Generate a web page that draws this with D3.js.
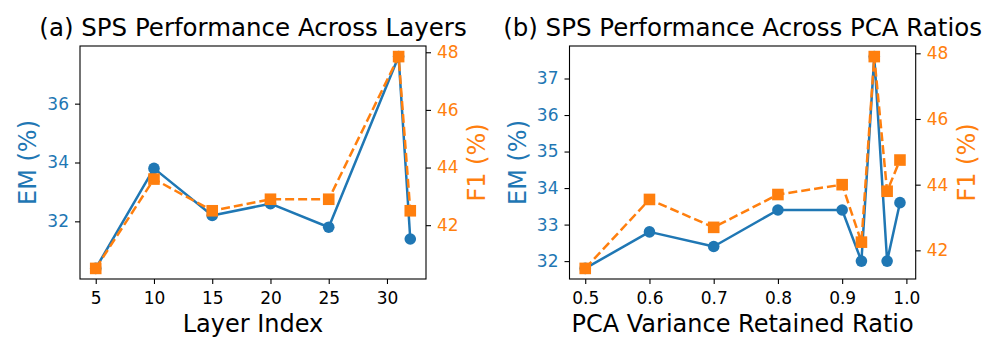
<!DOCTYPE html>
<html>
<head>
<meta charset="utf-8">
<script src="https://cdn.jsdelivr.net/npm/d3@7"></script>
<style>
  html, body { margin: 0; padding: 0; background: #fff; }
  svg { display: block; font-family: "DejaVu Sans", sans-serif; }
</style>
</head>
<body>
<svg id="chart" width="996" height="356"></svg>
<script>
// ---- Data ----
const layers = [5, 10, 15, 20, 25, 31, 32];
const emLayers = [30.4, 33.8, 32.2, 32.6, 31.8, 37.6, 31.4];
const f1Layers = [40.5, 43.6, 42.5, 42.9, 42.9, 47.85, 42.5];

const ratios = [0.5, 0.6, 0.7, 0.8, 0.9, 0.93, 0.95, 0.97, 0.99];
const emRatios = [31.8, 32.8, 32.4, 33.4, 33.4, 32.0, 37.6, 32.0, 33.6];
const f1Ratios = [41.45, 43.55, 42.7, 43.7, 44.0, 42.25, 47.9, 43.8, 44.75];

const layerTicks = [5, 10, 15, 20, 25, 30];
const ratioTicks = [0.5, 0.6, 0.7, 0.8, 0.9, 1.0];
const emLayerTicks = [32, 34, 36];
const emRatioTicks = [32, 33, 34, 35, 36, 37];
const f1Ticks = [42, 44, 46, 48];

const titles = ["(a) SPS Performance Across Layers", "(b) SPS Performance Across PCA Ratios"];
const xLabels = ["Layer Index", "PCA Variance Retained Ratio"];
const emLabel = "EM (%)";
const f1Label = "F1 (%)";

// ---- Styles ----
const BLUE = "#1f77b4", ORANGE = "#ff7f0e";
const svg = d3.select("#chart");

function padded(arr) {
  const [a, b] = d3.extent(arr);
  const m = (b - a) * 0.05;
  return [a - m, b + m];
}

function drawPanel(p) {
  const g = svg.append("g");
  const x = d3.scaleLinear().domain(padded(p.xs)).range([p.x0, p.x1]);
  const yL = d3.scaleLinear().domain(padded(p.em)).range([p.y1, p.y0]);
  const yR = d3.scaleLinear().domain(padded(p.f1)).range([p.y1, p.y0]);

  // axes
  const xAxis = g.append("g").attr("transform", `translate(0,${p.y1})`)
    .call(d3.axisBottom(x).tickValues(p.xTicks).tickFormat(p.xFmt).tickSize(5).tickPadding(8));
  const lAxis = g.append("g").attr("transform", `translate(${p.x0},0)`)
    .call(d3.axisLeft(yL).tickValues(p.emTicks).tickFormat(d3.format("d")).tickSize(5).tickPadding(6));
  const rAxis = g.append("g").attr("transform", `translate(${p.x1},0)`)
    .call(d3.axisRight(yR).tickValues(f1Ticks).tickFormat(d3.format("d")).tickSize(5).tickPadding(6));
  [xAxis, lAxis, rAxis].forEach(a => {
    a.select(".domain").remove();
    a.selectAll(".tick line").attr("stroke", "#000").attr("stroke-width", 1.1);
    a.selectAll(".tick text").attr("font-size", 17).attr("font-family", "DejaVu Sans");
  });
  xAxis.selectAll(".tick text").attr("fill", "#000");
  lAxis.selectAll(".tick text").attr("fill", BLUE);
  rAxis.selectAll(".tick text").attr("fill", ORANGE);

  // EM series
  g.append("path").datum(p.xs.map((v, i) => [v, p.em[i]]))
    .attr("fill", "none").attr("stroke", BLUE).attr("stroke-width", 2.5)
    .attr("stroke-linejoin", "round")
    .attr("d", d3.line().x(d => x(d[0])).y(d => yL(d[1])));
  g.selectAll(".em").data(p.xs.map((v, i) => [v, p.em[i]])).enter()
    .append("circle").attr("cx", d => x(d[0])).attr("cy", d => yL(d[1]))
    .attr("r", 5.8).attr("fill", BLUE);

  // F1 series
  g.append("path").datum(p.xs.map((v, i) => [v, p.f1[i]]))
    .attr("fill", "none").attr("stroke", ORANGE).attr("stroke-width", 2.5)
    .attr("stroke-dasharray", "9,4")
    .attr("d", d3.line().x(d => x(d[0])).y(d => yR(d[1])));
  g.selectAll(".f1").data(p.xs.map((v, i) => [v, p.f1[i]])).enter()
    .append("rect").attr("x", d => x(d[0]) - 5.8).attr("y", d => yR(d[1]) - 5.8)
    .attr("width", 11.6).attr("height", 11.6).attr("fill", ORANGE);

  // frame
  g.append("rect").attr("x", p.x0).attr("y", p.y0)
    .attr("width", p.x1 - p.x0).attr("height", p.y1 - p.y0)
    .attr("fill", "none").attr("stroke", "#000").attr("stroke-width", 1.1);

  // labels
  const cx = (p.x0 + p.x1) / 2, cy = (p.y0 + p.y1) / 2;
  g.append("text").attr("x", cx).attr("y", 36).attr("text-anchor", "middle")
    .attr("font-size", 24.5).attr("fill", "#000").text(p.title);
  g.append("text").attr("x", cx).attr("y", 332).attr("text-anchor", "middle")
    .attr("font-size", 24).attr("fill", "#000").text(p.xLabel);
  g.append("text").attr("transform", `translate(${p.emLabelX},${cy}) rotate(-90)`)
    .attr("text-anchor", "middle").attr("font-size", 24).attr("fill", BLUE).text(emLabel);
  g.append("text").attr("transform", `translate(${p.f1LabelX},${cy}) rotate(-90)`)
    .attr("text-anchor", "middle").attr("font-size", 24).attr("fill", ORANGE).text(f1Label);
}

drawPanel({
  x0: 80, x1: 426, y0: 46, y1: 279,
  xs: layers, em: emLayers, f1: f1Layers,
  xTicks: layerTicks, xFmt: d3.format("d"), emTicks: emLayerTicks,
  title: titles[0], xLabel: xLabels[0], emLabelX: 36, f1LabelX: 485
});
drawPanel({
  x0: 569.5, x1: 915.7, y0: 46, y1: 279,
  xs: ratios, em: emRatios, f1: f1Ratios,
  xTicks: ratioTicks, xFmt: d3.format(".1f"), emTicks: emRatioTicks,
  title: titles[1], xLabel: xLabels[1], emLabelX: 526, f1LabelX: 975
});
</script>
</body>
</html>
